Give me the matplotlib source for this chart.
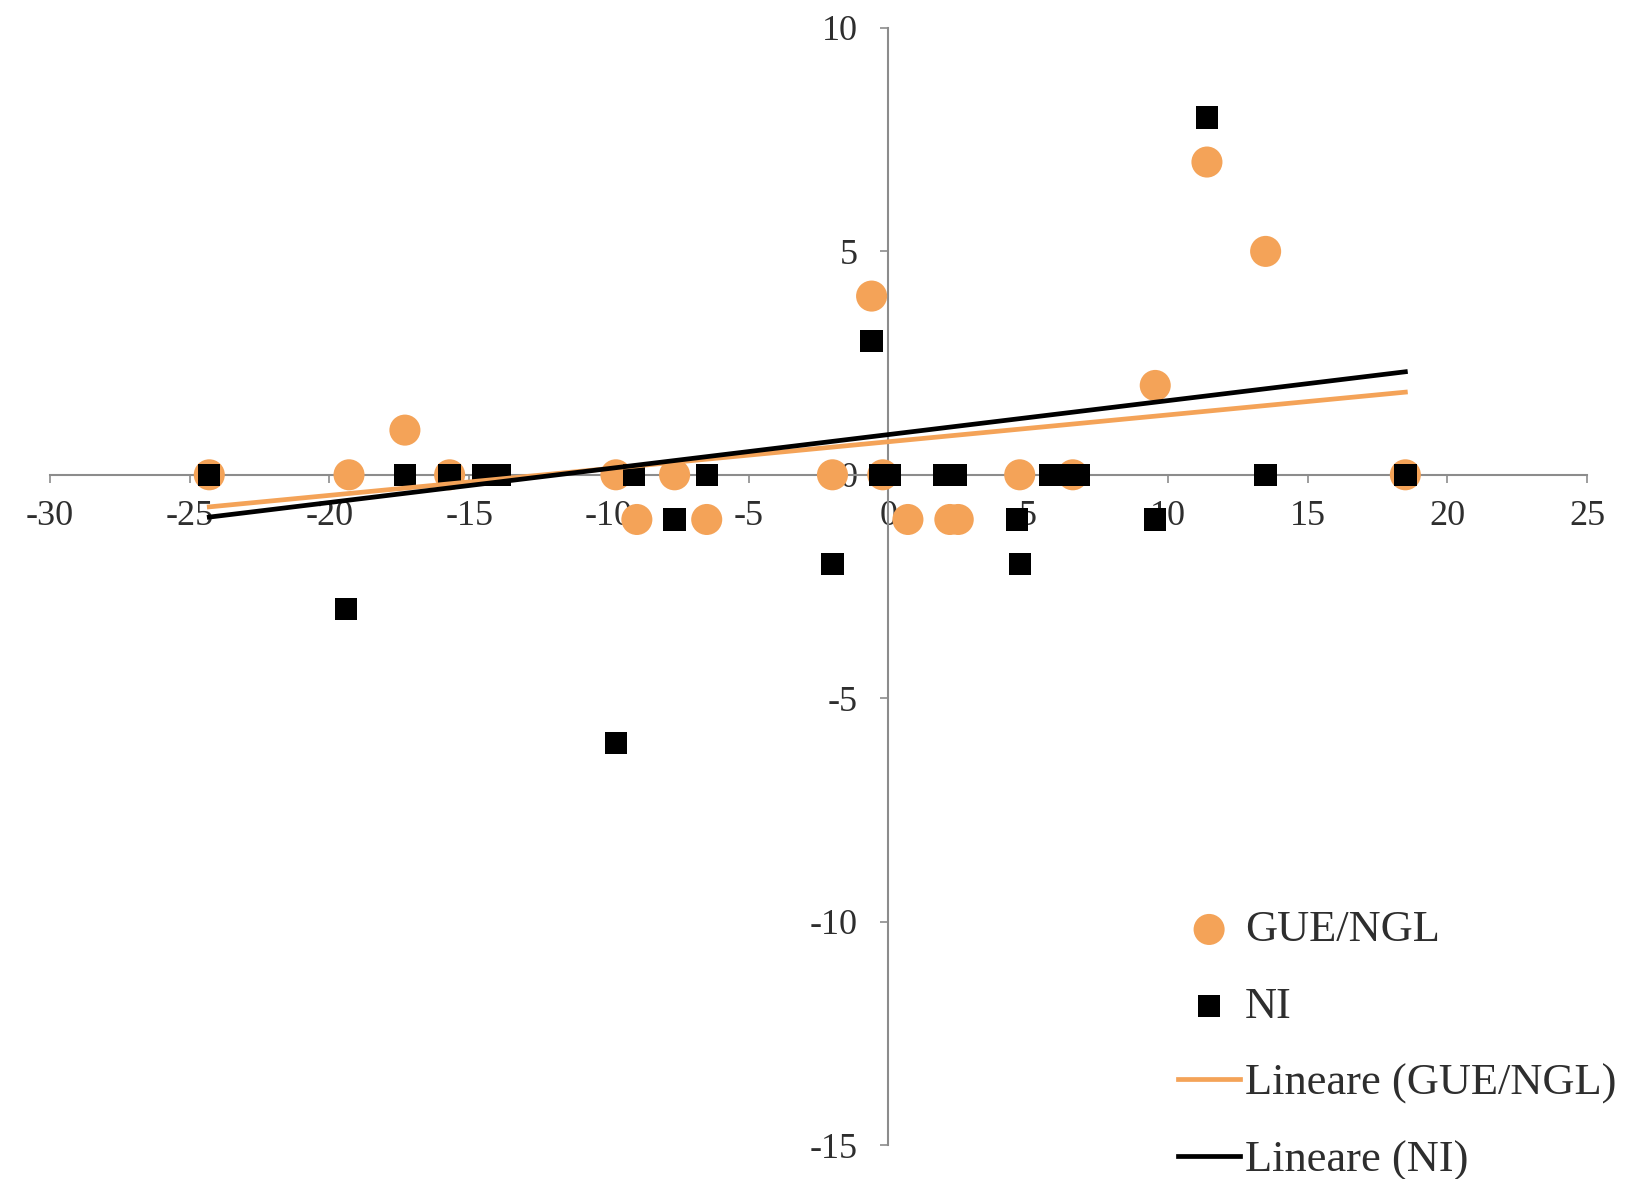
import matplotlib
matplotlib.use('Agg')
import matplotlib.pyplot as plt
import numpy as np

# GUE/NGL observations
gue_x = [-24.3, -19.3, -17.3, -15.7, -9.75, -9.0, -7.65, -6.5, -2.0, -0.6, -0.2,
         0.7, 2.2, 2.5, 4.7, 6.6, 9.55, 11.4, 13.5, 18.5]
gue_y = [0, 0, 1, 0, 0, -1, 0, -1, 0, 4, 0,
         -1, -1, -1, 0, 0, 2, 7, 5, 0]

# NI observations
ni_x = [-24.3, -19.4, -17.3, -15.7, -14.5, -13.9, -9.75, -9.1, -7.65, -6.5, -2.0,
        -0.6, -0.3, 0.05, 2.0, 2.4, 4.6, 4.7, 5.8, 6.4, 6.8, 9.55, 11.4, 13.5, 18.5]
ni_y = [0, -3, 0, 0, 0, 0, -6, 0, -1, 0, -2,
        3, 0, 0, 0, 0, -1, -2, 0, 0, 0, -1, 8, 0, 0]

# linear trendlines (slope, intercept)
gue_trend = (0.060, 0.74)
ni_trend = (0.076, 0.90)

orange = '#f4a358'
axis_grey = '#8c8c8c'

plt.rcParams['font.family'] = ['Liberation Serif', 'DejaVu Serif']
plt.rcParams['axes.unicode_minus'] = False

fig = plt.figure(figsize=(16.32, 11.79), dpi=100)
ax = fig.add_axes([50 / 1632, 1 - 1145 / 1179, (1587 - 50) / 1632, (1145 - 28) / 1179])

ax.scatter(gue_x, gue_y, s=500, color=orange, edgecolors='none', zorder=3, label='GUE/NGL')
ax.scatter(ni_x, ni_y, s=260, marker='s', color='black', edgecolors='none', zorder=4, label='NI')

xs = np.array([min(gue_x), max(gue_x)])
ax.plot(xs, gue_trend[0] * xs + gue_trend[1], color=orange, lw=3.4, zorder=5,
        label='Lineare (GUE/NGL)')
xs = np.array([min(ni_x), max(ni_x)])
ax.plot(xs, ni_trend[0] * xs + ni_trend[1], color='black', lw=3.4, zorder=5,
        label='Lineare (NI)')

ax.set_xlim(-30, 25)
ax.set_ylim(-15, 10)
ax.set_xticks(np.arange(-30, 26, 5))
ax.set_yticks(np.arange(-15, 11, 5))

# axes crossing at the origin
ax.spines['left'].set_position(('data', 0))
ax.spines['bottom'].set_position(('data', 0))
ax.spines['right'].set_visible(False)
ax.spines['top'].set_visible(False)
for sp in ('left', 'bottom'):
    ax.spines[sp].set_color(axis_grey)
    ax.spines[sp].set_linewidth(1.5)
ax.tick_params(axis='both', colors=axis_grey, length=6, width=1.2, labelcolor='#2e2e2e',
               labelsize=26)
ax.tick_params(axis='x', pad=12)
ax.tick_params(axis='y', pad=16)
ax.patch.set_visible(False)

ax.legend(loc='upper left', bbox_to_anchor=(1178 / 1632, 1 - 910 / 1179),
          bbox_transform=fig.transFigure, frameon=False, fontsize=32,
          handlelength=1.4, handletextpad=0.1, labelspacing=0.82,
          borderpad=0, borderaxespad=0, labelcolor='#2e2e2e')

fig.savefig('out.png', dpi=100)
